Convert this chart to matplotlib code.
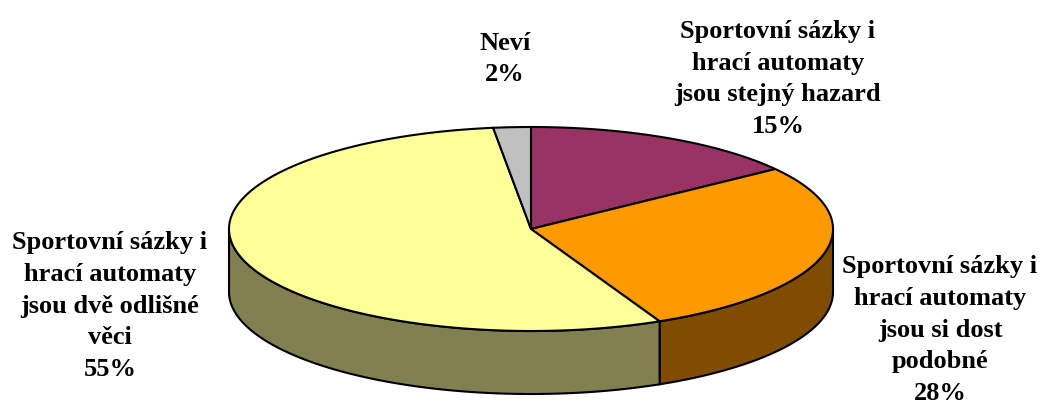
import numpy as np
import matplotlib.pyplot as plt
from matplotlib.patches import Polygon

labels = ["Sportovní sázky i\nhrací automaty\njsou stejný hazard",
          "Sportovní sázky i\nhrací automaty\njsou si dost\npodobné",
          "Sportovní sázky i\nhrací automaty\njsou dvě odlišné\nvěci",
          "Neví"]
shares = [15, 28, 55, 2]
top_colors = ["#993366", "#FF9900", "#FFFF99", "#C0C0C0"]
side_colors = ["#4D1A33", "#804C00", "#808050", "#606060"]

# layout (pixels)
label_pos = [(778, 79), (940, 330), (110, 306), (505, 59)]
cx, cy, a, b, depth = 531, 229, 302, 102, 63

fig = plt.figure(figsize=(10.45, 4.08), dpi=100)
ax = fig.add_axes([0, 0, 1, 1])
ax.set_xlim(0, 1045)
ax.set_ylim(408, 0)
ax.axis("off")


def arc(t1, t2, dy=0, n=200):
    t = np.radians(np.linspace(t1, t2, n))
    return np.column_stack([cx + a * np.cos(t), cy + dy - b * np.sin(t)])


total = sum(shares)
start = 90.0
bounds = []
for s in shares:
    end = start - s / total * 360
    bounds.append((start, end))
    start = end

# side walls (front half only)
for (t_s, t_e), col in zip(bounds, side_colors):
    for lo_lim, hi_lim in [(-180, 0), (-540, -360), (180, 360)]:
        lo = max(t_e, lo_lim)
        hi = min(t_s, hi_lim)
        if hi > lo:
            pts = np.vstack([arc(lo, hi), arc(hi, lo, depth)])
            ax.add_patch(Polygon(pts, closed=True, facecolor=col,
                                 edgecolor="black", lw=1.5, zorder=1))

# top faces
for (t_s, t_e), col in zip(bounds, top_colors):
    pts = np.vstack([[cx, cy], arc(t_s, t_e)])
    ax.add_patch(Polygon(pts, closed=True, facecolor=col,
                         edgecolor="black", lw=1.5, zorder=2, joinstyle="miter"))

for lab, s, (x, y) in zip(labels, shares, label_pos):
    ax.text(x, y, f"{lab}\n{s}%", ha="center", va="center",
            fontsize=19, fontweight="bold", family="Liberation Serif",
            linespacing=1.49, color="black")

fig.savefig("out.png", dpi=100)
